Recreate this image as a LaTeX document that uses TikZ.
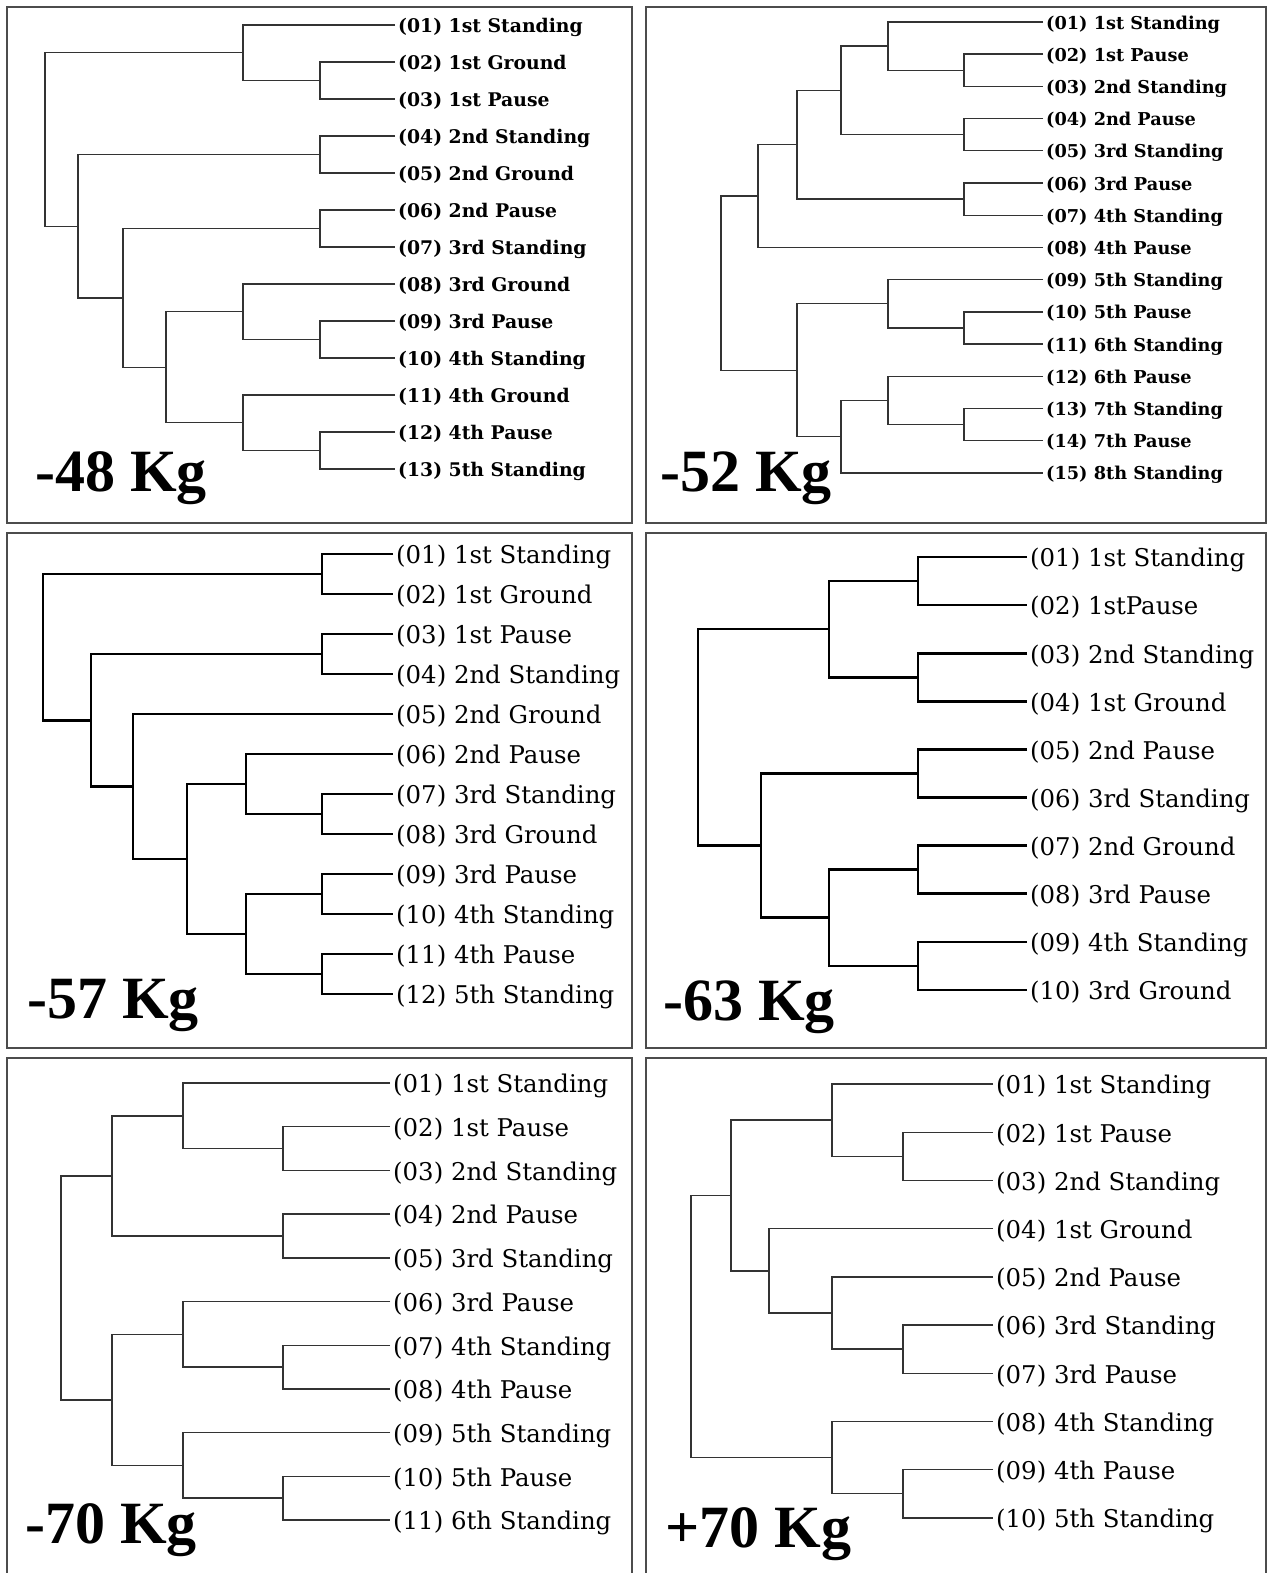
\documentclass[tikz,border=0pt]{standalone}
\usepackage{fontspec}
\usetikzlibrary{calc}
\newfontfamily\leaffont{DejaVu Serif}
\newfontfamily\kgfont{Liberation Serif}

\begin{document}
\begin{tikzpicture}[
    x=1pt, y=-1pt,
    panel/.style={draw=black!70, line width=1.6pt},
    treethin/.style={draw=black!80, line width=1.4pt},
    treethick/.style={draw=black, line width=2.6pt},
    leaf/.style={anchor=west, inner xsep=3pt, inner ysep=0pt},
    leafa/.style={leaf, font=\leaffont\bfseries\fontsize{18.8}{18.8}\selectfont, text height=16.9pt, text depth=1.9pt},
    leafb/.style={leaf, font=\leaffont\bfseries\fontsize{17.7}{17.7}\selectfont, text height=15.9pt, text depth=1.8pt},
    leafc/.style={leaf, font=\leaffont\fontsize{24.4}{24.4}\selectfont, text height=22pt, text depth=2.4pt},
    kg/.style={anchor=base west, inner sep=0pt, font=\kgfont\bfseries\fontsize{60}{60}\selectfont}
]
    \fill[white] (0,0) rectangle (1272,1573);
    \useasboundingbox (0,0) rectangle (1272,1573);

    % Panels
    \draw[panel] (7,7) rectangle (632,523);
    \draw[panel] (646,7) rectangle (1266,523);
    \draw[panel] (7,533) rectangle (632,1048);
    \draw[panel] (646,533) rectangle (1266,1048);
    \draw[panel] (7,1580) -- (7,1058) -- (632,1058) -- (632,1580);
    \draw[panel] (646,1580) -- (646,1058) -- (1266,1058) -- (1266,1580);

    % -48 Kg
    \foreach \n/\t [count=\i from 0] in {01/1st Standing, 02/1st Ground, 03/1st Pause, 04/2nd Standing,
        05/2nd Ground, 06/2nd Pause, 07/3rd Standing, 08/3rd Ground, 09/3rd Pause, 10/4th Standing,
        11/4th Ground, 12/4th Pause, 13/5th Standing}
        \node[leafa] (a\n) at (395, 25+37*\i) {(\n) \t};
    \coordinate (aj23) at (320,80.5);
    \coordinate (aj1to3) at (243,52.75);
    \coordinate (aj45) at (320,154.5);
    \coordinate (aj67) at (320,228.5);
    \coordinate (aj910) at (320,339.5);
    \coordinate (aj8to10) at (243,311.75);
    \coordinate (aj1213) at (320,450.5);
    \coordinate (aj11to13) at (243,422.75);
    \coordinate (aj8to13) at (166,367.25);
    \coordinate (aj6to13) at (123,297.9);
    \coordinate (aj4to13) at (78,226.2);
    \coordinate (ajroot) at (45,139.5);
    \draw[treethin] (a02.west) -| (aj23) |- (a03.west);
    \draw[treethin] (a01.west) -| (aj1to3) |- (aj23);
    \draw[treethin] (a04.west) -| (aj45) |- (a05.west);
    \draw[treethin] (a06.west) -| (aj67) |- (a07.west);
    \draw[treethin] (a09.west) -| (aj910) |- (a10.west);
    \draw[treethin] (a08.west) -| (aj8to10) |- (aj910);
    \draw[treethin] (a12.west) -| (aj1213) |- (a13.west);
    \draw[treethin] (a11.west) -| (aj11to13) |- (aj1213);
    \draw[treethin] (aj8to10) -| (aj8to13) |- (aj11to13);
    \draw[treethin] (aj67) -| (aj6to13) |- (aj8to13);
    \draw[treethin] (aj45) -| (aj4to13) |- (aj6to13);
    \draw[treethin] (aj1to3) -| (ajroot) |- (aj4to13);
    \node[kg] (kga) at (35,491) {-48 Kg};

    % -52 Kg
    \foreach \n/\t [count=\i from 0] in {01/1st Standing, 02/1st Pause, 03/2nd Standing, 04/2nd Pause,
        05/3rd Standing, 06/3rd Pause, 07/4th Standing, 08/4th Pause, 09/5th Standing, 10/5th Pause,
        11/6th Standing, 12/6th Pause, 13/7th Standing, 14/7th Pause, 15/8th Standing}
        \node[leafb] (b\n) at (1043, 22+32.2*\i) {(\n) \t};
    \coordinate (bj23) at (964,70.3);
    \coordinate (bj1to3) at (888,46.15);
    \coordinate (bj45) at (964,134.7);
    \coordinate (bj1to5) at (841,90.4);
    \coordinate (bj67) at (964,199.1);
    \coordinate (bj1to7) at (797,144.75);
    \coordinate (bj1to8) at (758,196.1);
    \coordinate (bj1011) at (964,327.9);
    \coordinate (bj9to11) at (888,303.75);
    \coordinate (bj1314) at (964,424.5);
    \coordinate (bj12to14) at (888,400.35);
    \coordinate (bj12to15) at (841,436.6);
    \coordinate (bj9to15) at (797,370.2);
    \coordinate (bjroot) at (721,283.1);
    \draw[treethin] (b02.west) -| (bj23) |- (b03.west);
    \draw[treethin] (b01.west) -| (bj1to3) |- (bj23);
    \draw[treethin] (b04.west) -| (bj45) |- (b05.west);
    \draw[treethin] (bj1to3) -| (bj1to5) |- (bj45);
    \draw[treethin] (b06.west) -| (bj67) |- (b07.west);
    \draw[treethin] (bj1to5) -| (bj1to7) |- (bj67);
    \draw[treethin] (bj1to7) -| (bj1to8) |- (b08.west);
    \draw[treethin] (b10.west) -| (bj1011) |- (b11.west);
    \draw[treethin] (b09.west) -| (bj9to11) |- (bj1011);
    \draw[treethin] (b13.west) -| (bj1314) |- (b14.west);
    \draw[treethin] (b12.west) -| (bj12to14) |- (bj1314);
    \draw[treethin] (bj12to14) -| (bj12to15) |- (b15.west);
    \draw[treethin] (bj9to11) -| (bj9to15) |- (bj12to15);
    \draw[treethin] (bj1to8) -| (bjroot) |- (bj9to15);
    \node[kg] (kgb) at (660,491) {-52 Kg};

    % -57 Kg
    \foreach \n/\t [count=\i from 0] in {01/1st Standing, 02/1st Ground, 03/1st Pause, 04/2nd Standing,
        05/2nd Ground, 06/2nd Pause, 07/3rd Standing, 08/3rd Ground, 09/3rd Pause, 10/4th Standing,
        11/4th Pause, 12/5th Standing}
        \node[leafc] (c\n) at (393, 554+40*\i) {(\n) \t};
    \coordinate (cj12) at (322,574);
    \coordinate (cj34) at (322,654);
    \coordinate (cj78) at (322,814);
    \coordinate (cj6to8) at (246,784);
    \coordinate (cj910) at (322,894);
    \coordinate (cj1112) at (322,974);
    \coordinate (cj9to12) at (246,934);
    \coordinate (cj6to12) at (187,859);
    \coordinate (cj5to12) at (133,786.5);
    \coordinate (cj3to12) at (91,720.25);
    \coordinate (cjroot) at (43,647);
    \draw[treethick] (c01.west) -| (cj12) |- (c02.west);
    \draw[treethick] (c03.west) -| (cj34) |- (c04.west);
    \draw[treethick] (c07.west) -| (cj78) |- (c08.west);
    \draw[treethick] (c06.west) -| (cj6to8) |- (cj78);
    \draw[treethick] (c09.west) -| (cj910) |- (c10.west);
    \draw[treethick] (c11.west) -| (cj1112) |- (c12.west);
    \draw[treethick] (cj910) -| (cj9to12) |- (cj1112);
    \draw[treethick] (cj6to8) -| (cj6to12) |- (cj9to12);
    \draw[treethick] (c05.west) -| (cj5to12) |- (cj6to12);
    \draw[treethick] (cj34) -| (cj3to12) |- (cj5to12);
    \draw[treethick] (cj12) -| (cjroot) |- (cj3to12);
    \node[kg] (kgc) at (27,1018) {-57 Kg};

    % -63 Kg
    \foreach \n/\t [count=\i from 0] in {01/1st Standing, 02/1stPause, 03/2nd Standing, 04/1st Ground,
        05/2nd Pause, 06/3rd Standing, 07/2nd Ground, 08/3rd Pause, 09/4th Standing, 10/3rd Ground}
        \node[leafc] (d\n) at (1027, 557+48.1*\i) {(\n) \t};
    \coordinate (dj12) at (918,581.05);
    \coordinate (dj34) at (918,677.25);
    \coordinate (dj1to4) at (829,629.15);
    \coordinate (dj56) at (918,773.45);
    \coordinate (dj78) at (918,869.65);
    \coordinate (dj910) at (918,965.85);
    \coordinate (dj7to10) at (829,917.75);
    \coordinate (dj5to10) at (761,845.6);
    \coordinate (djroot) at (698,737.4);
    \draw[treethick] (d01.west) -| (dj12) |- (d02.west);
    \draw[treethick] (d03.west) -| (dj34) |- (d04.west);
    \draw[treethick] (dj12) -| (dj1to4) |- (dj34);
    \draw[treethick] (d05.west) -| (dj56) |- (d06.west);
    \draw[treethick] (d07.west) -| (dj78) |- (d08.west);
    \draw[treethick] (d09.west) -| (dj910) |- (d10.west);
    \draw[treethick] (dj78) -| (dj7to10) |- (dj910);
    \draw[treethick] (dj56) -| (dj5to10) |- (dj7to10);
    \draw[treethick] (dj1to4) -| (djroot) |- (dj5to10);
    \node[kg] (kgd) at (663,1020) {-63 Kg};

    % -70 Kg
    \foreach \n/\t [count=\i from 0] in {01/1st Standing, 02/1st Pause, 03/2nd Standing, 04/2nd Pause,
        05/3rd Standing, 06/3rd Pause, 07/4th Standing, 08/4th Pause, 09/5th Standing, 10/5th Pause,
        11/6th Standing}
        \node[leafc] (e\n) at (390, 1083+43.7*\i) {(\n) \t};
    \coordinate (ej23) at (283,1148.55);
    \coordinate (ej1to3) at (183,1115.8);
    \coordinate (ej45) at (283,1235.95);
    \coordinate (ej1to5) at (112,1175.9);
    \coordinate (ej78) at (283,1367.05);
    \coordinate (ej6to8) at (183,1334.3);
    \coordinate (ej1011) at (283,1498.15);
    \coordinate (ej9to11) at (183,1465.4);
    \coordinate (ej6to11) at (112,1399.85);
    \coordinate (ejroot) at (61,1287.9);
    \draw[treethin] (e02.west) -| (ej23) |- (e03.west);
    \draw[treethin] (e01.west) -| (ej1to3) |- (ej23);
    \draw[treethin] (e04.west) -| (ej45) |- (e05.west);
    \draw[treethin] (ej1to3) -| (ej1to5) |- (ej45);
    \draw[treethin] (e07.west) -| (ej78) |- (e08.west);
    \draw[treethin] (e06.west) -| (ej6to8) |- (ej78);
    \draw[treethin] (e10.west) -| (ej1011) |- (e11.west);
    \draw[treethin] (e09.west) -| (ej9to11) |- (ej1011);
    \draw[treethin] (ej6to8) -| (ej6to11) |- (ej9to11);
    \draw[treethin] (ej1to5) -| (ejroot) |- (ej6to11);
    \node[kg] (kge) at (25,1543) {-70 Kg};

    % +70 Kg
    \foreach \n/\t [count=\i from 0] in {01/1st Standing, 02/1st Pause, 03/2nd Standing, 04/1st Ground,
        05/2nd Pause, 06/3rd Standing, 07/3rd Pause, 08/4th Standing, 09/4th Pause, 10/5th Standing}
        \node[leafc] (f\n) at (993, 1084+48.2*\i) {(\n) \t};
    \coordinate (fj23) at (903,1156.3);
    \coordinate (fj1to3) at (832,1120.15);
    \coordinate (fj67) at (903,1349.1);
    \coordinate (fj5to7) at (832,1312.95);
    \coordinate (fj4to7) at (769,1270.8);
    \coordinate (fj1to7) at (731,1195.5);
    \coordinate (fj910) at (903,1493.7);
    \coordinate (fj8to10) at (832,1457.55);
    \coordinate (fjroot) at (691,1326.5);
    \draw[treethin] (f02.west) -| (fj23) |- (f03.west);
    \draw[treethin] (f01.west) -| (fj1to3) |- (fj23);
    \draw[treethin] (f06.west) -| (fj67) |- (f07.west);
    \draw[treethin] (f05.west) -| (fj5to7) |- (fj67);
    \draw[treethin] (f04.west) -| (fj4to7) |- (fj5to7);
    \draw[treethin] (fj1to3) -| (fj1to7) |- (fj4to7);
    \draw[treethin] (f09.west) -| (fj910) |- (f10.west);
    \draw[treethin] (f08.west) -| (fj8to10) |- (fj910);
    \draw[treethin] (fj1to7) -| (fjroot) |- (fj8to10);
    \node[kg] (kgf) at (665,1547) {+70 Kg};
\end{tikzpicture}
\end{document}
